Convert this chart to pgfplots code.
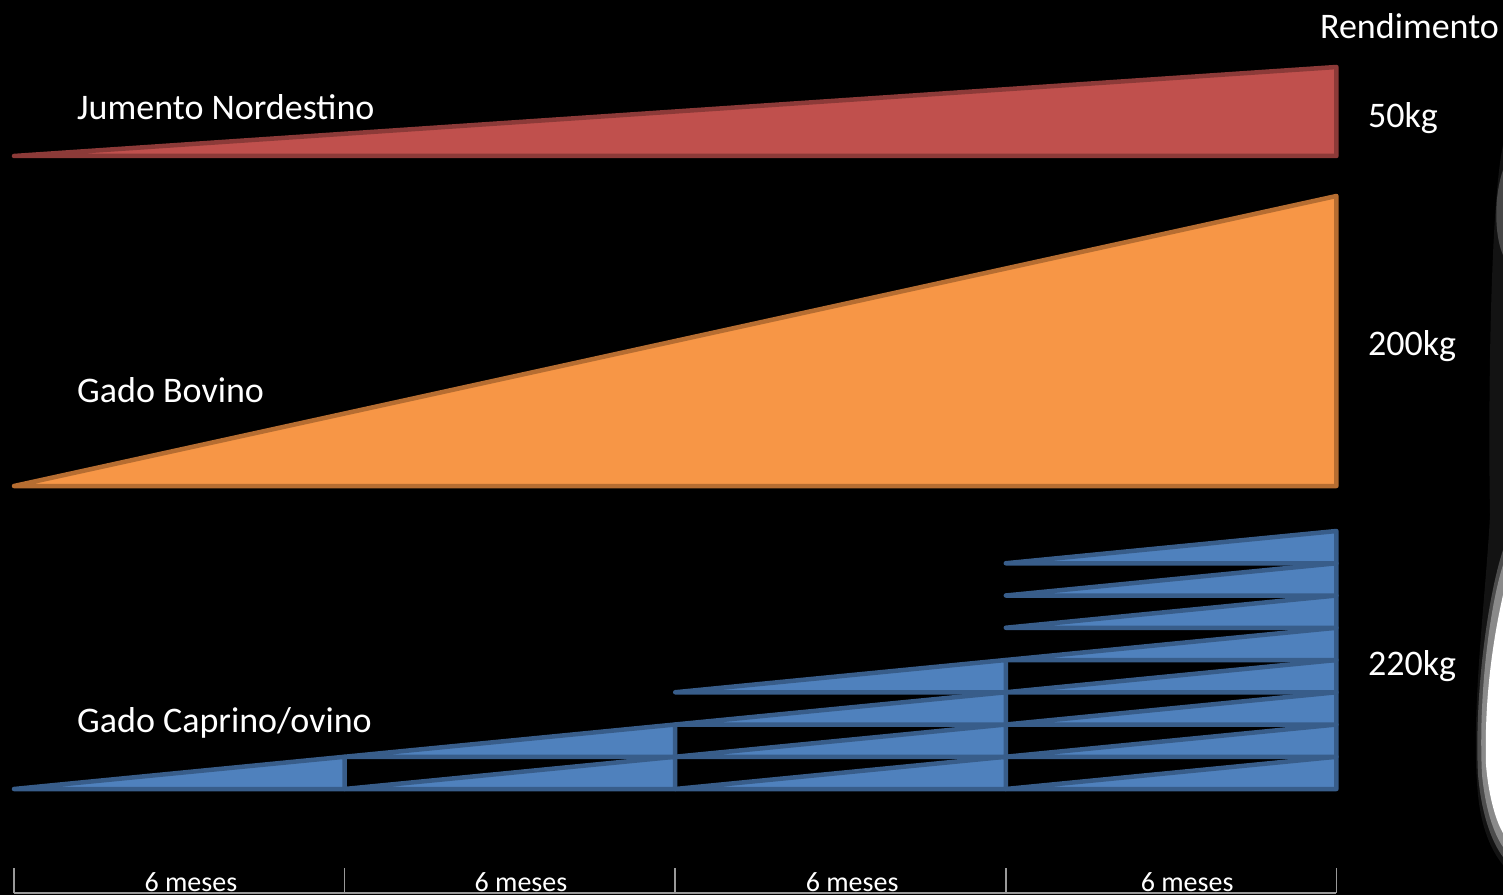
\documentclass[border=0pt]{standalone}
\usepackage{pgfplots}
\pgfplotsset{compat=1.18}
\usepackage{fontspec}
\setmainfont{Carlito}
\definecolor{redfill}{HTML}{C0504D}
\definecolor{redline}{HTML}{8C3A38}
\definecolor{orafill}{HTML}{F79646}
\definecolor{oraline}{HTML}{B66D31}
\definecolor{blufill}{HTML}{4F81BD}
\definecolor{bluline}{HTML}{385D8A}
\begin{document}
\begin{tikzpicture}[x=1pt,y=1pt]
\useasboundingbox (0,0) rectangle (1503,895);
\fill[black] (0,0) rectangle (1503,895);
% blurred photo edge on the right
\fill[gray!15!black] (1503,750) .. controls (1490,690) and (1488,480) .. (1490,380) .. controls (1486,300) and (1470,180) .. (1478,100) .. controls (1482,60) and (1495,40) .. (1503,30) -- cycle;
\fill[gray!55!black] (1503,725) .. controls (1494,700) and (1494,660) .. (1503,640) -- cycle;
\fill[gray!60!black] (1503,345) .. controls (1488,300) and (1474,200) .. (1478,120) .. controls (1482,75) and (1494,50) .. (1503,38) -- cycle;
\fill[gray!92!white] (1503,330) .. controls (1490,290) and (1478,200) .. (1482,120) .. controls (1486,80) and (1496,58) .. (1503,48) -- cycle;
\fill[white] (1503,300) .. controls (1494,260) and (1484,200) .. (1486,130) .. controls (1489,95) and (1497,72) .. (1503,62) -- cycle;
\begin{axis}[
  at={(0,0)}, anchor=south west,
  scale only axis, width=1503pt, height=895pt,
  xmin=-0.254, xmax=27.023, ymin=0, ymax=895,
  axis lines=none, clip=false,
  every axis plot/.append style={line width=4.5pt, line join=round, line cap=round},
]
% Jumento Nordestino
\addplot[fill=redfill, draw=redline] coordinates {(0,739) (24,828) (24,739)} -- cycle;
% Gado Bovino
\addplot[fill=orafill, draw=oraline] coordinates {(0,409) (24,699) (24,409)} -- cycle;
% Gado Caprino/ovino: segment 1
\addplot[fill=blufill, draw=bluline] coordinates {(0,106) (6,138.25) (6,106)} -- cycle;
% segment 2
\addplot[fill=blufill, draw=bluline] coordinates {(6,106) (12,138.25) (12,106)} -- cycle;
\addplot[fill=blufill, draw=bluline] coordinates {(6,138.25) (12,170.5) (12,138.25)} -- cycle;
% segment 3
\addplot[fill=blufill, draw=bluline] coordinates {(12,106) (18,138.25) (18,106)} -- cycle;
\addplot[fill=blufill, draw=bluline] coordinates {(12,138.25) (18,170.5) (18,138.25)} -- cycle;
\addplot[fill=blufill, draw=bluline] coordinates {(12,170.5) (18,202.75) (18,170.5)} -- cycle;
\addplot[fill=blufill, draw=bluline] coordinates {(12,202.75) (18,235) (18,202.75)} -- cycle;
% segment 4
\addplot[fill=blufill, draw=bluline] coordinates {(18,106) (24,138.25) (24,106)} -- cycle;
\addplot[fill=blufill, draw=bluline] coordinates {(18,138.25) (24,170.5) (24,138.25)} -- cycle;
\addplot[fill=blufill, draw=bluline] coordinates {(18,170.5) (24,202.75) (24,170.5)} -- cycle;
\addplot[fill=blufill, draw=bluline] coordinates {(18,202.75) (24,235) (24,202.75)} -- cycle;
\addplot[fill=blufill, draw=bluline] coordinates {(18,235) (24,267.25) (24,235)} -- cycle;
\addplot[fill=blufill, draw=bluline] coordinates {(18,267.25) (24,299.5) (24,267.25)} -- cycle;
\addplot[fill=blufill, draw=bluline] coordinates {(18,299.5) (24,331.75) (24,299.5)} -- cycle;
\addplot[fill=blufill, draw=bluline] coordinates {(18,331.75) (24,364) (24,331.75)} -- cycle;
% labels
\node[white, anchor=west, font=\fontsize{36}{40}\selectfont, inner sep=0pt] at (axis cs:1.143,788) {Jumento Nordestino};
\node[white, anchor=west, font=\fontsize{36}{40}\selectfont, inner sep=0pt] at (axis cs:1.143,505) {Gado Bovino};
\node[white, anchor=west, font=\fontsize{36}{40}\selectfont, inner sep=0pt] at (axis cs:1.143,172) {Gado Caprino/ovino};
\node[white, anchor=west, font=\fontsize{36}{40}\selectfont, inner sep=0pt] at (axis cs:24.57,777) {50kg};
\node[white, anchor=west, font=\fontsize{36}{40}\selectfont, inner sep=0pt] at (axis cs:24.57,549) {200kg};
\node[white, anchor=west, font=\fontsize{36}{40}\selectfont, inner sep=0pt] at (axis cs:24.57,229) {220kg};
\node[white, anchor=west, font=\fontsize{36}{40}\selectfont, inner sep=0pt] at (axis cs:23.70,869) {Rendimento};
% time scale
\draw[gray!80!white, line width=1.5pt] (axis cs:0,2) -- (axis cs:24,2);
\draw[gray!80!white, line width=1.5pt] (axis cs:0,2) -- (axis cs:0,27);
\draw[gray!80!white, line width=1.5pt] (axis cs:6,2) -- (axis cs:6,27);
\draw[gray!80!white, line width=1.5pt] (axis cs:12,2) -- (axis cs:12,27);
\draw[gray!80!white, line width=1.5pt] (axis cs:18,2) -- (axis cs:18,27);
\draw[gray!80!white, line width=1.5pt] (axis cs:24,2) -- (axis cs:24,27);
\node[white, anchor=base, font=\fontsize{28}{30}\selectfont, inner sep=0pt] at (axis cs:3.21,4) {6 meses};
\node[white, anchor=base, font=\fontsize{28}{30}\selectfont, inner sep=0pt] at (axis cs:9.20,4) {6 meses};
\node[white, anchor=base, font=\fontsize{28}{30}\selectfont, inner sep=0pt] at (axis cs:15.21,4) {6 meses};
\node[white, anchor=base, font=\fontsize{28}{30}\selectfont, inner sep=0pt] at (axis cs:21.29,4) {6 meses};
\end{axis}
\end{tikzpicture}
\end{document}
